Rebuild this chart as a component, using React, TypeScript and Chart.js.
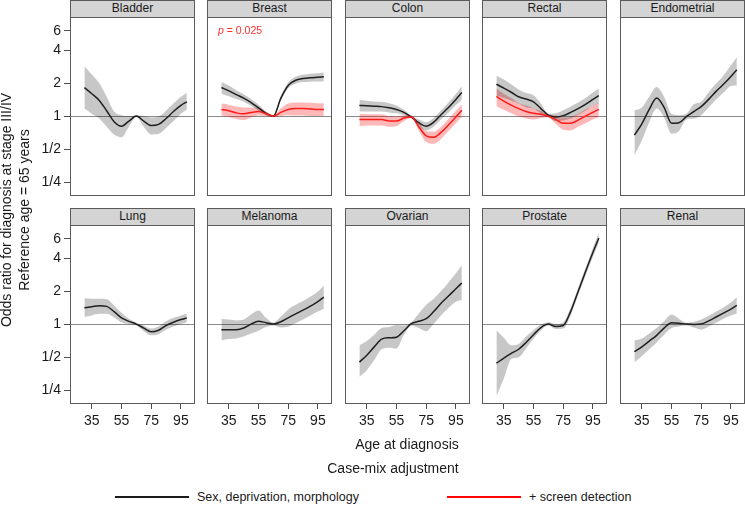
import React, { useEffect, useRef } from "react";
import { Chart, registerables } from "chart.js";

Chart.register(...registerables);

const FONT = '"Liberation Sans", Arial, Helvetica, sans-serif';

// ---------- data ----------
const AGES = [30, 35, 40, 45, 50, 55, 60, 65, 70, 75, 80, 85, 90, 95, 99];
const X_TICKS = [35, 55, 75, 95];
const Y_TICKS = [0.25, 0.5, 1, 2, 4, 6];
const Y_TICK_LABELS = ["1/4", "1/2", "1", "2", "4", "6"];
const CANCERS = ["Bladder", "Breast", "Colon", "Rectal", "Endometrial", "Lung", "Melanoma", "Ovarian", "Prostate", "Renal"];
const Y_TITLE = ["Odds ratio for diagnosis at stage III/IV", "Reference age = 65 years"];
const X_TITLE = "Age at diagnosis";
const LEGEND_TITLE = "Case-mix adjustment";
const LEGEND_LABELS = ["Sex, deprivation, morphology", "+ screen detection"];
const P_VALUE = "0.025";

// Sex, deprivation, morphology (black)
const bladderOR = [1.82, 1.6, 1.39, 1.12, 0.89, 0.81, 0.9, 1.0, 0.9, 0.82, 0.84, 0.95, 1.1, 1.25, 1.35];
const bladderLo = [1.17, 1.05, 0.95, 0.8, 0.68, 0.64, 0.8, 0.98, 0.8, 0.68, 0.69, 0.78, 0.9, 1.05, 1.15];
const bladderHi = [2.84, 2.4, 2.0, 1.5, 1.1, 1.02, 1.0, 1.02, 1.0, 0.97, 0.99, 1.12, 1.3, 1.5, 1.62];

const breastOR = [1.82, 1.7, 1.57, 1.46, 1.33, 1.19, 1.06, 1.0, 1.45, 1.9, 2.12, 2.2, 2.24, 2.26, 2.28];
const breastLo = [1.6, 1.52, 1.43, 1.35, 1.24, 1.12, 1.02, 0.98, 1.38, 1.79, 1.97, 2.04, 2.06, 2.07, 2.07];
const breastHi = [2.05, 1.9, 1.72, 1.58, 1.43, 1.27, 1.1, 1.02, 1.52, 2.02, 2.28, 2.38, 2.43, 2.46, 2.5];

const colonOR = [1.25, 1.24, 1.23, 1.22, 1.19, 1.15, 1.08, 0.98, 0.87, 0.81, 0.88, 1.03, 1.2, 1.42, 1.64];
const colonLo = [1.1, 1.1, 1.1, 1.1, 1.08, 1.06, 1.02, 0.96, 0.81, 0.74, 0.8, 0.93, 1.08, 1.26, 1.41];
const colonHi = [1.41, 1.38, 1.36, 1.35, 1.31, 1.25, 1.14, 1.01, 0.93, 0.88, 0.96, 1.13, 1.33, 1.6, 1.87];

const rectalOR = [1.95, 1.8, 1.65, 1.5, 1.43, 1.35, 1.17, 1.02, 0.98, 1.01, 1.08, 1.17, 1.28, 1.42, 1.54];
const rectalLo = [1.54, 1.46, 1.38, 1.3, 1.2, 1.17, 1.05, 0.97, 0.9, 0.91, 0.95, 1.03, 1.12, 1.24, 1.3];
const rectalHi = [2.35, 2.15, 1.95, 1.75, 1.62, 1.55, 1.3, 1.05, 1.06, 1.13, 1.22, 1.33, 1.46, 1.64, 1.78];

const endometrialOR = [0.67, 0.85, 1.15, 1.46, 1.2, 0.86, 0.87, 0.99, 1.1, 1.22, 1.42, 1.68, 1.95, 2.3, 2.65];
const endometrialLo = [0.44, 0.6, 0.88, 1.17, 0.97, 0.69, 0.73, 0.93, 0.95, 1.02, 1.2, 1.42, 1.63, 1.88, 1.9];
const endometrialHi = [1.13, 1.2, 1.5, 1.84, 1.5, 1.05, 1.02, 1.05, 1.28, 1.35, 1.65, 1.98, 2.35, 2.9, 3.45];

const lungOR = [1.41, 1.44, 1.47, 1.45, 1.3, 1.14, 1.06, 1.0, 0.92, 0.85, 0.88, 0.97, 1.04, 1.1, 1.14];
const lungLo = [1.16, 1.2, 1.24, 1.24, 1.15, 1.04, 1.0, 0.97, 0.86, 0.79, 0.81, 0.89, 0.95, 1.0, 1.04];
const lungHi = [1.72, 1.7, 1.7, 1.68, 1.48, 1.27, 1.12, 1.03, 0.97, 0.91, 0.95, 1.06, 1.14, 1.2, 1.25];

const melanomaOR = [0.89, 0.89, 0.89, 0.92, 1.0, 1.06, 1.03, 1.0, 1.05, 1.14, 1.24, 1.34, 1.46, 1.6, 1.76];
const melanomaLo = [0.71, 0.73, 0.74, 0.77, 0.82, 0.87, 0.94, 0.97, 0.93, 0.95, 1.02, 1.1, 1.2, 1.3, 1.38];
const melanomaHi = [1.12, 1.1, 1.08, 1.1, 1.22, 1.33, 1.14, 1.03, 1.17, 1.36, 1.5, 1.62, 1.78, 1.98, 2.25];

const ovarianOR = [0.45, 0.52, 0.62, 0.73, 0.75, 0.76, 0.87, 1.01, 1.06, 1.12, 1.3, 1.55, 1.8, 2.1, 2.37];
const ovarianLo = [0.33, 0.38, 0.47, 0.59, 0.61, 0.6, 0.8, 0.97, 0.92, 0.86, 1.0, 1.2, 1.4, 1.6, 1.66];
const ovarianHi = [0.64, 0.7, 0.8, 0.92, 0.94, 0.98, 0.97, 1.04, 1.25, 1.5, 1.7, 2.0, 2.4, 2.9, 3.43];

const prostateOR = [0.44, 0.49, 0.54, 0.59, 0.68, 0.8, 0.93, 1.0, 0.95, 0.97, 1.3, 1.97, 3.0, 4.5, 6.1];
const prostateLo = [0.22, 0.32, 0.48, 0.5, 0.6, 0.74, 0.88, 0.97, 0.9, 0.91, 1.2, 1.82, 2.75, 4.1, 5.5];
const prostateHi = [0.88, 0.75, 0.64, 0.66, 0.77, 0.88, 0.99, 1.04, 1.0, 1.04, 1.41, 2.12, 3.25, 4.95, 6.8];

const renalOR = [0.56, 0.62, 0.7, 0.79, 0.92, 1.03, 1.02, 1.0, 0.99, 1.0, 1.07, 1.16, 1.26, 1.37, 1.48];
const renalLo = [0.45, 0.51, 0.59, 0.68, 0.8, 0.92, 0.95, 0.97, 0.93, 0.89, 0.95, 1.03, 1.12, 1.2, 1.24];
const renalHi = [0.71, 0.74, 0.82, 0.92, 1.06, 1.22, 1.12, 1.03, 1.05, 1.1, 1.19, 1.3, 1.42, 1.57, 1.76];

// + screen detection (red)
const breastScreenOR = [1.15, 1.12, 1.07, 1.05, 1.08, 1.1, 1.05, 1.0, 1.08, 1.15, 1.17, 1.17, 1.16, 1.15, 1.15];
const breastScreenLo = [1.01, 0.98, 0.94, 0.92, 0.97, 1.01, 1.0, 0.98, 1.0, 1.02, 1.01, 1.01, 1.0, 1.0, 1.0];
const breastScreenHi = [1.3, 1.27, 1.22, 1.2, 1.2, 1.2, 1.1, 1.02, 1.17, 1.3, 1.33, 1.33, 1.32, 1.31, 1.31];

const colonScreenOR = [0.93, 0.93, 0.93, 0.93, 0.9, 0.9, 0.96, 0.98, 0.8, 0.66, 0.64, 0.71, 0.83, 0.98, 1.13];
const colonScreenLo = [0.81, 0.82, 0.82, 0.82, 0.8, 0.81, 0.9, 0.96, 0.74, 0.58, 0.56, 0.62, 0.73, 0.86, 0.98];
const colonScreenHi = [1.05, 1.04, 1.04, 1.04, 1.0, 0.99, 1.02, 1.01, 0.87, 0.73, 0.72, 0.8, 0.94, 1.12, 1.28];

const rectalScreenOR = [1.51, 1.37, 1.26, 1.17, 1.1, 1.06, 1.04, 1.0, 0.93, 0.86, 0.86, 0.92, 1.0, 1.08, 1.15];
const rectalScreenLo = [1.23, 1.14, 1.06, 0.99, 0.95, 0.93, 0.96, 0.97, 0.85, 0.75, 0.74, 0.8, 0.86, 0.93, 0.98];
const rectalScreenHi = [1.78, 1.6, 1.46, 1.31, 1.25, 1.18, 1.12, 1.03, 1.01, 0.97, 0.98, 1.05, 1.15, 1.24, 1.32];

// ---------- layout ----------
const COL_LEFT = [70, 207, 345, 482, 620];
const ROW_TOP = [0, 208];
const STRIP_H = 17;
const PLOT_W = 125;
const PLOT_H = 179;
const X_MIN = 20.3;
const X_MAX = 104.5;
const Y_MIN = 0.187;
const Y_MAX = 8;

const LINE_COLORS = ["#1f1f1f", "#ff1a1a"];
const BAND_COLORS = ["rgba(0,0,0,0.22)", "rgba(255,0,0,0.28)"];

type Series = { or: number[]; lo: number[]; hi: number[]; kind: number };

const PANEL_SERIES: Series[][] = [
  [{ or: bladderOR, lo: bladderLo, hi: bladderHi, kind: 0 }],
  [
    { or: breastOR, lo: breastLo, hi: breastHi, kind: 0 },
    { or: breastScreenOR, lo: breastScreenLo, hi: breastScreenHi, kind: 1 },
  ],
  [
    { or: colonOR, lo: colonLo, hi: colonHi, kind: 0 },
    { or: colonScreenOR, lo: colonScreenLo, hi: colonScreenHi, kind: 1 },
  ],
  [
    { or: rectalOR, lo: rectalLo, hi: rectalHi, kind: 0 },
    { or: rectalScreenOR, lo: rectalScreenLo, hi: rectalScreenHi, kind: 1 },
  ],
  [{ or: endometrialOR, lo: endometrialLo, hi: endometrialHi, kind: 0 }],
  [{ or: lungOR, lo: lungLo, hi: lungHi, kind: 0 }],
  [{ or: melanomaOR, lo: melanomaLo, hi: melanomaHi, kind: 0 }],
  [{ or: ovarianOR, lo: ovarianLo, hi: ovarianHi, kind: 0 }],
  [{ or: prostateOR, lo: prostateLo, hi: prostateHi, kind: 0 }],
  [{ or: renalOR, lo: renalLo, hi: renalHi, kind: 0 }],
];

const panelDecor = {
  id: "panelDecor",
  beforeDatasetsDraw(chart: any) {
    const { ctx, chartArea: a, scales } = chart;
    const py = Math.round(scales.y.getPixelForValue(1)) + 0.5;
    ctx.save();
    ctx.strokeStyle = "#8a8a8a";
    ctx.lineWidth = 1;
    ctx.beginPath();
    ctx.moveTo(a.left, py);
    ctx.lineTo(a.right, py);
    ctx.stroke();
    ctx.restore();
  },
  afterDraw(chart: any) {
    const { ctx, chartArea: a } = chart;
    ctx.save();
    ctx.strokeStyle = "#5a5a5a";
    ctx.lineWidth = 1;
    ctx.strokeRect(a.left + 0.5, a.top + 0.5, a.right - a.left - 1, a.bottom - a.top - 1);
    ctx.restore();
  },
};

function zeroPad(s: any) {
  s.paddingTop = 0;
  s.paddingBottom = 0;
  s.paddingLeft = 0;
  s.paddingRight = 0;
}

function Panel({ idx }: { idx: number }) {
  const ref = useRef<HTMLCanvasElement>(null);
  const row = Math.floor(idx / 5);
  const col = idx % 5;
  const showY = col === 0;
  const showX = row === 1;
  const yAxisW = showY ? 70 : 0;
  const xAxisH = showX ? 40 : 0;
  const cw = PLOT_W + yAxisW;
  const ch = PLOT_H + xAxisH;
  const left = COL_LEFT[col] - yAxisW;
  const top = ROW_TOP[row] + STRIP_H;

  useEffect(() => {
    const series = PANEL_SERIES[idx];
    const pts = (arr: number[]) => AGES.map((a, i) => ({ x: a, y: arr[i] }));
    const datasets: any[] = [];
    [...series].reverse().forEach((s) => {
      datasets.push({
        data: pts(s.or),
        borderColor: LINE_COLORS[s.kind],
        borderWidth: 1.5,
        pointRadius: 0,
        fill: false,
        order: 0,
        cubicInterpolationMode: "monotone",
      });
    });
    series.forEach((s) => {
      datasets.push({
        data: pts(s.hi),
        borderColor: "rgba(0,0,0,0)",
        borderWidth: 0,
        pointRadius: 0,
        fill: "+1",
        backgroundColor: BAND_COLORS[s.kind],
        order: 1,
        cubicInterpolationMode: "monotone",
      });
      datasets.push({
        data: pts(s.lo),
        borderColor: "rgba(0,0,0,0)",
        borderWidth: 0,
        pointRadius: 0,
        fill: false,
        order: 1,
        cubicInterpolationMode: "monotone",
      });
    });

    const chart = new Chart(ref.current as HTMLCanvasElement, {
      type: "line",
      data: { datasets },
      options: {
        responsive: false,
        animation: false,
        events: [],
        layout: { padding: 0 },
        plugins: { legend: { display: false }, tooltip: { enabled: false } },
        scales: {
          x: {
            type: "linear",
            min: X_MIN,
            max: X_MAX,
            display: showX,
            afterBuildTicks: (s: any) => {
              s.ticks = X_TICKS.map((v) => ({ value: v }));
            },
            afterFit: (s: any) => {
              s.height = showX ? 40 : 0;
              zeroPad(s);
            },
            ticks: {
              font: { size: 14, family: FONT },
              color: "#1a1a1a",
              padding: 4,
              autoSkip: false,
              maxRotation: 0,
            },
            grid: { display: true, drawOnChartArea: false, drawTicks: true, tickLength: 5, color: "#4d4d4d" },
            border: { display: false },
          },
          y: {
            type: "logarithmic",
            min: Y_MIN,
            max: Y_MAX,
            display: showY,
            afterBuildTicks: (s: any) => {
              s.ticks = Y_TICKS.map((v) => ({ value: v }));
            },
            afterFit: (s: any) => {
              s.width = showY ? 70 : 0;
              zeroPad(s);
            },
            ticks: {
              font: { size: 14, family: FONT },
              color: "#1a1a1a",
              padding: 3,
              autoSkip: false,
              callback: (_v: any, i: number) => Y_TICK_LABELS[i],
            },
            grid: { display: true, drawOnChartArea: false, drawTicks: true, tickLength: 6, color: "#4d4d4d" },
            border: { display: false },
          },
        },
      } as any,
      plugins: [panelDecor],
    });
    return () => chart.destroy();
  }, [idx]);

  return (
    <>
      <div
        style={{
          position: "absolute",
          left: COL_LEFT[col],
          top: ROW_TOP[row],
          width: PLOT_W,
          height: STRIP_H + 1,
          boxSizing: "border-box",
          border: "1px solid #5a5a5a",
          background: "#d4d4d4",
          font: `12px ${FONT}`,
          color: "#1a1a1a",
          textAlign: "center",
          lineHeight: "15px",
        }}
      >
        {CANCERS[idx]}
      </div>
      <canvas
        ref={ref}
        width={cw}
        height={ch}
        style={{ position: "absolute", left, top, width: cw, height: ch }}
      />
    </>
  );
}

export default function App() {
  return (
    <div
      style={{
        position: "absolute",
        left: 0,
        top: 0,
        width: 745,
        height: 508,
        background: "#ffffff",
        overflow: "hidden",
        fontFamily: FONT,
      }}
    >
      {CANCERS.map((_, i) => (
        <Panel key={i} idx={i} />
      ))}
      <div
        style={{
          position: "absolute",
          left: 218,
          top: 24,
          font: `10.5px ${FONT}`,
          color: "#ff3030",
          whiteSpace: "nowrap",
        }}
      >
        <i>p</i> = {P_VALUE}
      </div>
      <div
        style={{
          position: "absolute",
          left: 14.5 - 200,
          top: 210 - 18,
          width: 400,
          height: 36,
          transform: "rotate(-90deg)",
          textAlign: "center",
          font: `14px ${FONT}`,
          lineHeight: "18px",
          color: "#1a1a1a",
          whiteSpace: "nowrap",
        }}
      >
        <div>{Y_TITLE[0]}</div>
        <div>{Y_TITLE[1]}</div>
      </div>
      <div
        style={{
          position: "absolute",
          left: 307,
          top: 436,
          width: 200,
          textAlign: "center",
          font: `14px ${FONT}`,
          lineHeight: "16px",
          color: "#1a1a1a",
        }}
      >
        {X_TITLE}
      </div>
      <div
        style={{
          position: "absolute",
          left: 293,
          top: 460,
          width: 200,
          textAlign: "center",
          font: `14px ${FONT}`,
          lineHeight: "16px",
          color: "#1a1a1a",
        }}
      >
        {LEGEND_TITLE}
      </div>
      {LEGEND_LABELS.map((lab, i) => {
        const x0 = i === 0 ? 115 : 447;
        return (
          <React.Fragment key={i}>
            <div
              style={{
                position: "absolute",
                left: x0,
                top: 496,
                width: 74,
                height: 2,
                background: i === 1 ? "#ff0000" : "#1a1a1a",
              }}
            />
            <div
              style={{
                position: "absolute",
                left: x0 + 82,
                top: 489,
                font: `12.5px ${FONT}`,
                lineHeight: "16px",
                color: "#1a1a1a",
                whiteSpace: "nowrap",
              }}
            >
              {lab}
            </div>
          </React.Fragment>
        );
      })}
    </div>
  );
}
